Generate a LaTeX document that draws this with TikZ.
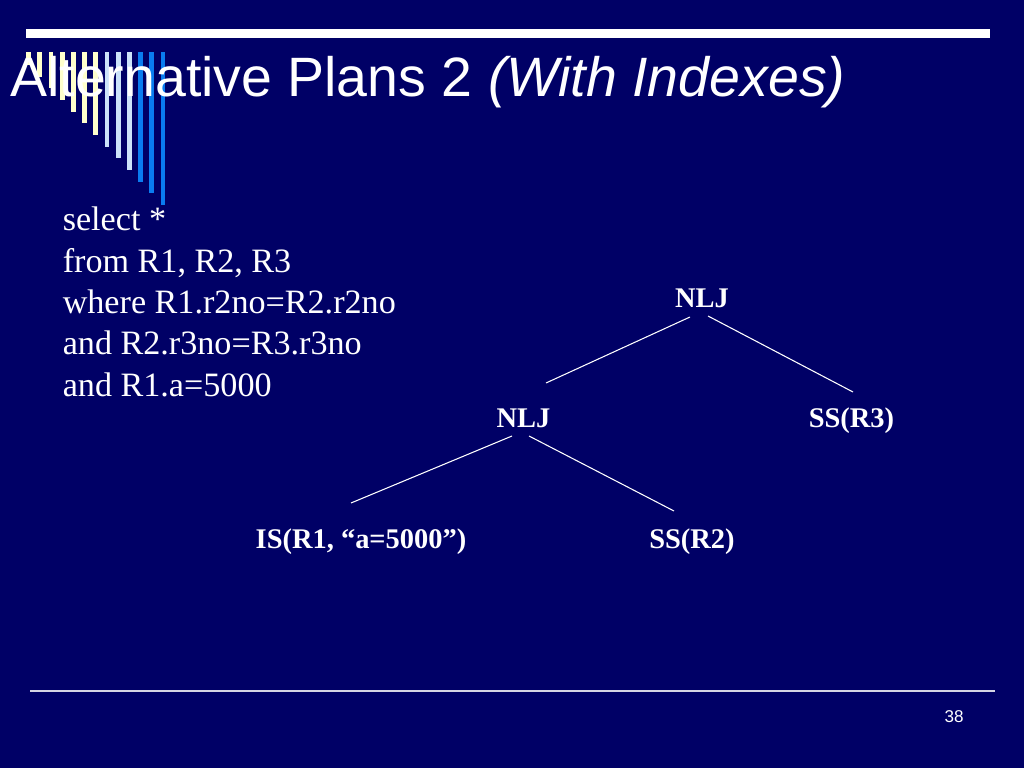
\documentclass[tikz,border=0pt]{standalone}
\usepackage{fontspec}
\setmainfont{Liberation Serif}
\newfontfamily\arialfont{Liberation Sans}
\definecolor{bgnavy}{HTML}{000066}
\definecolor{barYellow}{HTML}{FFFFCC}
\definecolor{barLight}{HTML}{CCE3FA}
\definecolor{barBlue}{HTML}{0A7CF0}
\definecolor{ruleGray}{HTML}{D4D4E4}
\tikzset{
  querytext/.style={anchor=base west, inner sep=0pt, text=white, font=\fontsize{24}{29}\selectfont},
  plannode/.style={anchor=base, inner sep=0pt, text=white, font=\fontsize{20}{24}\selectfont\bfseries},
  treeedge/.style={draw=white, line width=0.75pt},
}
\begin{document}
\begin{tikzpicture}[x=0.703125pt, y=-0.703125pt]
\fill[bgnavy] (0,0) rectangle (1024,768);
\useasboundingbox (0,0) rectangle (1024,768);
% top white bar
\fill[white] (26,29) rectangle (990,38);
% decorative bars
\foreach \i in {0,...,12}{
  \pgfmathsetmacro{\cx}{28.6+11.2*\i}
  \pgfmathsetmacro{\by}{65+11.67*\i}
  \ifnum\i<7 \def\bc{barYellow}\else\ifnum\i<10 \def\bc{barLight}\else\def\bc{barBlue}\fi\fi
  \fill[\bc] (\cx-2.35,51.7) rectangle (\cx+2.35,\by);
}
% title
\node[anchor=base west, inner sep=0pt, text=white, font=\arialfont\fontsize{39}{46}\selectfont] (title) at (10,97) {Alternative Plans 2 \textit{(With Indexes)}};
% query
\node[querytext] (q1) at (62.5,231) {select *};
\node[querytext] (q2) at (62.5,272.3) {from R1, R2, R3};
\node[querytext] (q3) at (62.5,313.6) {where R1.r2no=R2.r2no};
\node[querytext] (q4) at (62.5,354.9) {and R2.r3no=R3.r3no};
\node[querytext] (q5) at (62.5,396.2) {and R1.a=5000};
% plan tree
\node[plannode] (top) at (702,307) {NLJ};
\node[plannode] (nlj2) at (523.5,427) {NLJ};
\node[plannode] (r3) at (851.5,427) {SS(R3)};
\node[plannode] (is) at (361,548) {IS(R1, “a=5000”)};
\node[plannode] (r2) at (692,548) {SS(R2)};
\draw[treeedge] ([shift={(-12,10)}]top.base) -- ([shift={(22.5,-44)}]nlj2.base);
\draw[treeedge] ([shift={(6,9)}]top.base) -- ([shift={(1.5,-35)}]r3.base);
\draw[treeedge] ([shift={(-11.5,9)}]nlj2.base) -- ([shift={(-10,-45)}]is.base);
\draw[treeedge] ([shift={(5.5,9)}]nlj2.base) -- ([shift={(-18,-37)}]r2.base);
% bottom rule and page number
\draw[ruleGray, line width=1.4pt] (30,691) -- (995,691);
\node[anchor=base, inner sep=0pt, text=white, font=\arialfont\fontsize{12}{14}\selectfont] (pagenum) at (954,722) {38};
\end{tikzpicture}
\end{document}
